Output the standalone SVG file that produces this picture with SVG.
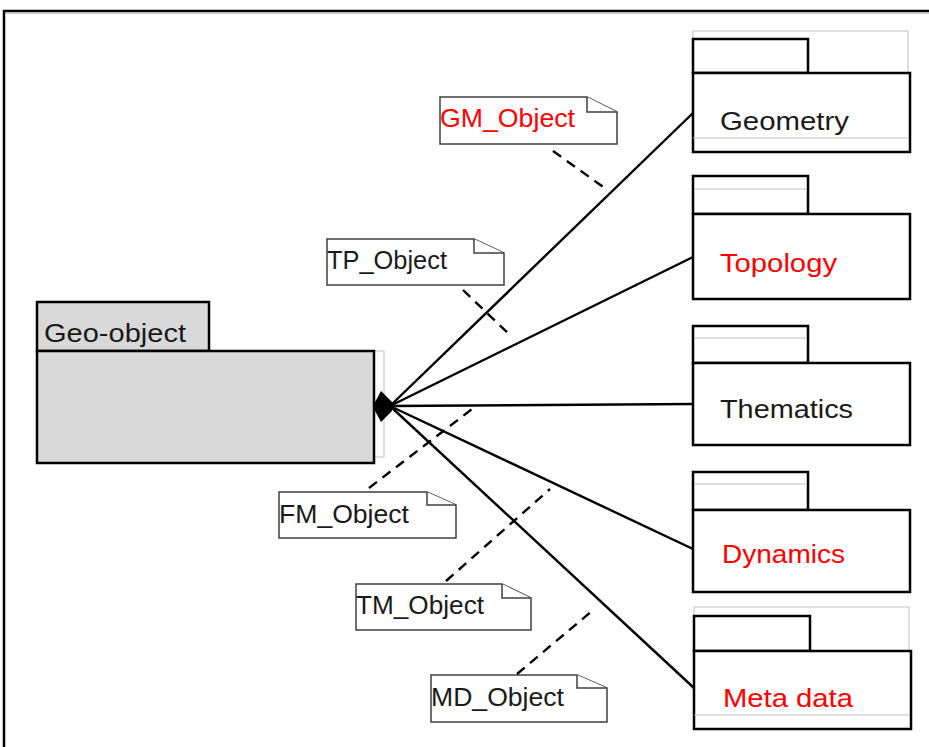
<svg xmlns="http://www.w3.org/2000/svg" width="929" height="747" viewBox="0 0 929 747">
<style>
.pk{fill:#fff;stroke:#000;stroke-width:2.5}
.geo{fill:#d9d9d9;stroke:#000;stroke-width:2.5}
.gl{fill:none;stroke:#bfbfbf;stroke-width:1}
.note{fill:#fff;stroke:#404040;stroke-width:1.5}
.con{stroke:#000;stroke-width:2.4;fill:none}
.dash{stroke:#000;stroke-width:2.4;fill:none;stroke-dasharray:10,7}
text{font-family:"Liberation Sans",Arial,sans-serif;font-size:26px;fill:#1a1a1a}
.red{fill:#ff0000}
</style>
<rect width="929" height="747" fill="#fff"/>
<path d="M4,747 V11 H929" fill="none" stroke="#000" stroke-width="2.5"/>
<line x1="6" y1="13.5" x2="929" y2="13.5" stroke="#c8c8c8" stroke-width="1"/>

<g id="geo-object">
<rect class="gl" x="374" y="351" width="10" height="106"/>
<rect class="geo" x="37" y="302" width="172" height="49"/>
<rect class="geo" x="37" y="351" width="337" height="112"/>
<text x="44" y="342" textLength="142" lengthAdjust="spacingAndGlyphs">Geo-object</text>
</g>

<g id="geometry">
<rect class="gl" x="693" y="31" width="215" height="107"/>
<rect class="pk" x="693" y="39" width="115" height="34"/>
<rect class="pk" x="693" y="73" width="217" height="79"/>
<line class="gl" x1="693" y1="138" x2="908" y2="138"/>
<text x="720" y="130" textLength="129" lengthAdjust="spacingAndGlyphs">Geometry</text>
</g>

<g id="topology">
<rect class="pk" x="693" y="176" width="115" height="38"/>
<line class="gl" x1="694" y1="189" x2="807" y2="189"/>
<rect class="pk" x="693" y="214" width="217" height="85"/>
<text class="red" x="720" y="272" textLength="117" lengthAdjust="spacingAndGlyphs">Topology</text>
</g>

<g id="thematics">
<rect class="pk" x="693" y="326" width="115" height="37"/>
<line class="gl" x1="694" y1="338" x2="807" y2="338"/>
<rect class="pk" x="693" y="363" width="217" height="82"/>
<text x="720" y="418" textLength="133" lengthAdjust="spacingAndGlyphs">Thematics</text>
</g>

<g id="dynamics">
<rect class="pk" x="693" y="472" width="115" height="38"/>
<line class="gl" x1="694" y1="484" x2="807" y2="484"/>
<rect class="pk" x="693" y="510" width="217" height="82"/>
<text class="red" x="722" y="563" textLength="123" lengthAdjust="spacingAndGlyphs">Dynamics</text>
</g>

<g id="metadata">
<rect class="gl" x="694" y="607" width="215" height="108"/>
<rect class="pk" x="694" y="616" width="116" height="35"/>
<rect class="pk" x="694" y="651" width="217" height="78"/>
<line class="gl" x1="694" y1="715" x2="909" y2="715"/>
<text class="red" x="723" y="707" textLength="130" lengthAdjust="spacingAndGlyphs">Meta data</text>
</g>

<g id="gm-object">
<path class="note" d="M440,97 H587 L617,112 V144 H440 Z"/>
<path class="note" d="M587,97 V112 H617"/>
<text class="red" x="440" y="127" textLength="135" lengthAdjust="spacingAndGlyphs">GM_Object</text>
</g>

<g id="tp-object">
<path class="note" d="M327,239 H474 L504,253 V285 H327 Z"/>
<path class="note" d="M474,239 V253 H504"/>
<text x="327" y="269" textLength="120" lengthAdjust="spacingAndGlyphs">TP_Object</text>
</g>

<g id="fm-object">
<path class="note" d="M279,492 H427 L456,505 V538 H279 Z"/>
<path class="note" d="M427,492 V505 H456"/>
<text x="279" y="523" textLength="130" lengthAdjust="spacingAndGlyphs">FM_Object</text>
</g>

<g id="tm-object">
<path class="note" d="M356,584 H502 L531,598 V630 H356 Z"/>
<path class="note" d="M502,584 V598 H531"/>
<text x="356" y="614" textLength="128" lengthAdjust="spacingAndGlyphs">TM_Object</text>
</g>

<g id="md-object">
<path class="note" d="M431,675 H577 L607,688 V722 H431 Z"/>
<path class="note" d="M577,675 V688 H607"/>
<text x="431" y="706" textLength="133" lengthAdjust="spacingAndGlyphs">MD_Object</text>
</g>

<g id="connectors">
<line class="con" x1="390" y1="406" x2="693" y2="113"/>
<line class="con" x1="390" y1="406" x2="693" y2="257"/>
<line class="con" x1="390" y1="406" x2="693" y2="404"/>
<line class="con" x1="390" y1="406" x2="693" y2="549"/>
<line class="con" x1="390" y1="406" x2="694" y2="688"/>
<polygon points="374,404 381,391 392,402 392,411 381,422 374,409" fill="#000"/>
<line class="dash" x1="553" y1="151" x2="606" y2="189"/>
<line class="dash" x1="463" y1="290" x2="512" y2="337"/>
<line class="dash" x1="369" y1="488" x2="476" y2="406"/>
<line class="dash" x1="446" y1="581" x2="550" y2="489"/>
<line class="dash" x1="517" y1="674" x2="592" y2="611"/>
</g>
</svg>
